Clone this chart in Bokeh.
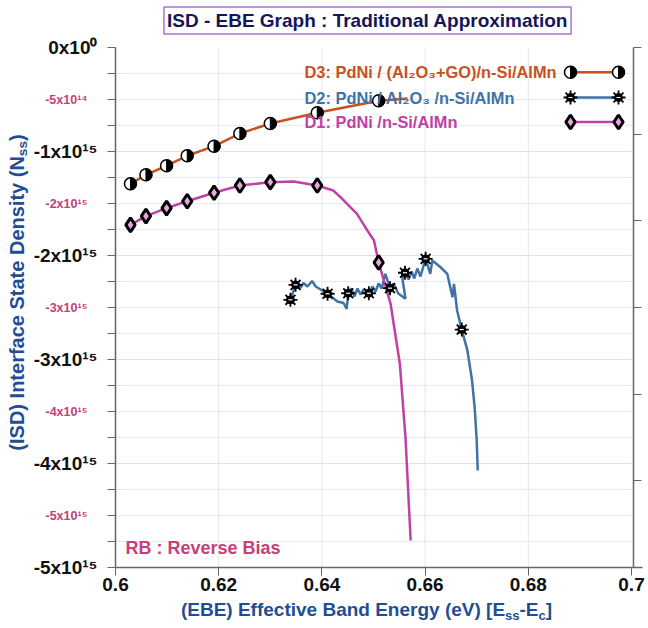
import math
from bokeh.plotting import figure
from bokeh.models import Range1d, LinearAxis, FixedTicker, Label
from bokeh.embed import file_html
from bokeh.resources import INLINE

FONT = "Liberation Sans"

# ---------------- data (y in units of 1e15) ----------------
x_ticks = [0.6, 0.62, 0.64, 0.66, 0.68, 0.7]
x_tick_labels = ["0.6", "0.62", "0.64", "0.66", "0.68", "0.7"]
y_major = [0, -1, -2, -3, -4, -5]
y_major_labels = ["0x10\u2070", "-1x10\u00b9\u2075", "-2x10\u00b9\u2075", "-3x10\u00b9\u2075",
                  "-4x10\u00b9\u2075", "-5x10\u00b9\u2075"]
y_pink = [-0.5, -1.5, -2.5, -3.5, -4.5]
y_pink_labels = ["-5x10\u00b9\u2074", "-2x10\u00b9\u2075", "-3x10\u00b9\u2075",
                 "-4x10\u00b9\u2075", "-5x10\u00b9\u2075"]
y_quarter = [-0.25 * i for i in range(21)]
right_ticks = [-5.0 * i / 6 for i in range(7)]

# D3: PdNi/(Al2O3+GO)/n-Si/AlMn
d3_x = [0.6029, 0.6059, 0.6099, 0.6139, 0.6191, 0.6241, 0.6300, 0.6391, 0.6510, 0.6566]
d3_y = [-1.311, -1.224, -1.137, -1.041, -0.949, -0.827, -0.731, -0.627, -0.512, -0.490]
d3_mx = [0.6029, 0.6059, 0.6099, 0.6139, 0.6191, 0.6241, 0.6300, 0.6391, 0.6510]
d3_my = [-1.311, -1.224, -1.137, -1.041, -0.949, -0.827, -0.731, -0.627, -0.512]

# D2: PdNi/Al2O3/n-Si/AlMn
d2_x = [0.6339, 0.6349, 0.6359, 0.6364, 0.6372, 0.6381, 0.6388, 0.6411, 0.6430, 0.6442,
        0.6448, 0.6451, 0.6457, 0.6463, 0.6469, 0.6475, 0.6481, 0.6491, 0.6498, 0.6504,
        0.6510, 0.6516, 0.6523, 0.6532, 0.6539, 0.6548, 0.6562, 0.6556, 0.6561, 0.6568,
        0.6574, 0.6579, 0.6585, 0.6591, 0.6601, 0.6610, 0.6614, 0.6630, 0.6643, 0.6653,
        0.6656, 0.6662, 0.6671, 0.6682, 0.6691, 0.6696, 0.6700, 0.6702]
d2_y = [-2.426, -2.282, -2.308, -2.264, -2.298, -2.245, -2.298, -2.368, -2.442, -2.457,
        -2.513, -2.363, -2.317, -2.394, -2.317, -2.375, -2.327, -2.363, -2.298, -2.346,
        -2.269, -2.317, -2.176, -2.314, -2.269, -2.365, -2.416, -2.221, -2.166, -2.231,
        -2.154, -2.221, -2.125, -2.202, -2.032, -2.176, -2.048, -2.113, -2.176, -2.401,
        -2.272, -2.529, -2.712, -2.913, -3.202, -3.459, -3.779, -4.067]
d2_mx = [0.6339, 0.6349, 0.6411, 0.6451, 0.6491, 0.6532, 0.6561, 0.6601, 0.6671]
d2_my = [-2.426, -2.282, -2.368, -2.363, -2.363, -2.314, -2.166, -2.032, -2.712]

# D1: PdNi/n-Si/AlMn
d1_x = [0.6029, 0.6059, 0.6099, 0.6139, 0.6191, 0.6241, 0.6300, 0.6345, 0.6391, 0.6422,
        0.6436, 0.6468, 0.6484, 0.6501, 0.6510, 0.6533, 0.6551, 0.6562, 0.6572]
d1_y = [-1.705, -1.622, -1.545, -1.478, -1.397, -1.327, -1.295, -1.288, -1.327, -1.375,
        -1.439, -1.599, -1.728, -1.856, -2.067, -2.462, -3.038, -3.750, -4.740]
d1_mx = [0.6029, 0.6059, 0.6099, 0.6139, 0.6191, 0.6241, 0.6300, 0.6391, 0.6510]
d1_my = [-1.705, -1.622, -1.545, -1.478, -1.397, -1.327, -1.295, -1.327, -2.067]

legend_texts = ["D3: PdNi / (Al\u2082O\u2083+GO)/n-Si/AlMn",
                "D2: PdNi / Al\u2082O\u2083 /n-Si/AlMn",
                "D1: PdNi /n-Si/AlMn"]

title_text = "ISD - EBE Graph : Traditional Approximation"
note_text = "RB : Reverse Bias"
xlabel_pieces = [("(EBE) Effective Band Energy (eV) [E", False), ("ss", True), ("-E", False),
                 ("c", True), ("]", False)]
ylabel_pieces = [("(ISD) Interface State Density (N", False), ("ss", True), (")", False)]

# ---------------- styling ----------------
C3 = "#c9501f"
C2 = "#3f73a6"
C1 = "#c23fa6"
AXC = "#1f4e96"
PINK = "#c63f78"
AXL = "#666666"

# data frame placement in the 648x628 canvas (pixels)
L, R, T, B = 115, 17, 47, 61
W_, H_ = 648, 628
FW, FH = W_ - L - R, H_ - T - B
XMIN, XMAX, YMIN, YMAX = 0.6, 0.7, -5.0, 0.0
KX = (XMAX - XMIN) / FW
KY = (YMAX - YMIN) / FH

p = figure(width=W_, height=H_, output_backend="svg", toolbar_location=None,
           x_range=Range1d(XMIN - L * KX, XMAX + R * KX),
           y_range=Range1d(YMIN - B * KY, YMAX + T * KY),
           x_axis_location=None, y_axis_location=None, min_border=0)
p.outline_line_color = None
p.background_fill_color = "white"
p.border_fill_color = "white"
p.xgrid.visible = False
p.ygrid.visible = False


def sx(px):
    return XMIN + (px - L) * KX


def sy(py):
    return YMAX - (py - T) * KY


# ---------------- grid lines ----------------
gx = x_ticks[1:-1]
p.segment(x0=gx, y0=[YMIN] * len(gx), x1=gx, y1=[YMAX] * len(gx),
          line_color="#e6e6e6", line_width=1)
gy = [v for v in y_quarter if v not in y_major]
p.segment(x0=[XMIN] * len(gy), y0=gy, x1=[XMAX] * len(gy), y1=gy,
          line_color="#e3eaf0", line_width=1)
gy2 = y_major[1:-1]
p.segment(x0=[XMIN] * len(gy2), y0=gy2, x1=[XMAX] * len(gy2), y1=gy2,
          line_color="#f5dcc8", line_width=1)

# ---------------- axes (pinned to the data frame) ----------------
xa = LinearAxis(fixed_location=YMIN, bounds=(XMIN, sx(642)),
                ticker=FixedTicker(ticks=x_ticks),
                major_label_overrides={t: s for t, s in zip(x_ticks, x_tick_labels)},
                major_label_text_font=FONT, major_label_text_font_style="bold",
                major_label_text_font_size="19px", major_label_text_color="#111111",
                major_tick_out=8, major_tick_in=0, minor_tick_line_color=None,
                axis_line_color=AXL, major_tick_line_color=AXL, axis_line_width=1.5,
                major_label_standoff=2)
p.add_layout(xa, "below")

ov = {q: "" for q in y_quarter}
for t, s in zip(y_major, y_major_labels):
    ov[t] = s
ya = LinearAxis(fixed_location=XMIN, bounds=(YMIN, YMAX),
                ticker=FixedTicker(ticks=y_quarter), major_label_overrides=ov,
                major_label_text_font=FONT, major_label_text_font_style="bold",
                major_label_text_font_size="19px", major_label_text_color="#111111",
                major_tick_out=8, major_tick_in=0, minor_tick_line_color=None,
                axis_line_color=AXL, major_tick_line_color=AXL, axis_line_width=1.5,
                major_label_standoff=10)
p.add_layout(ya, "left")

ra = LinearAxis(fixed_location=sx(633), bounds=(YMIN, YMAX),
                ticker=FixedTicker(ticks=right_ticks),
                major_label_overrides={t: "" for t in right_ticks},
                major_tick_out=8, major_tick_in=0, minor_tick_line_color=None,
                axis_line_color=AXL, major_tick_line_color=AXL, axis_line_width=1.5)
p.add_layout(ra, "right")

# ---------------- series ----------------
p.line(d2_x, d2_y, line_color=C2, line_width=2.5)
p.line(d1_x, d1_y, line_color=C1, line_width=2.5)
p.line(d3_x, d3_y, line_color=C3, line_width=2.5)


def star_markers(xs, ys):
    p.scatter(xs, ys, marker="circle", size=8, fill_color="black", line_color="black")
    p.scatter(xs, ys, marker="asterisk", size=14, line_color="black", line_width=1.8)
    p.scatter(xs, ys, marker="dash", size=4, line_color="white", line_width=1.2)


def diamond_markers(xs, ys):
    p.scatter(xs, ys, marker="diamond", size=14, fill_color="#e6a8dc", line_color="black",
              line_width=3)


def half_markers(xs, ys):
    p.scatter(xs, ys, marker="circle", size=12, fill_color="white", line_color="black",
              line_width=1.5)
    p.wedge(xs, ys, radius=6, radius_units="screen", start_angle=-math.pi / 2,
            end_angle=math.pi / 2, fill_color="black", line_color="black")


star_markers(d2_mx, d2_my)
diamond_markers(d1_mx, d1_my)
half_markers(d3_mx, d3_my)

# ---------------- legend (custom) ----------------
leg_cols = [C3, C2, C1]
leg_py = [71.7, 97.0, 121.5]
for txt, col, py in zip(legend_texts, leg_cols, leg_py):
    p.add_layout(Label(x=sx(304), y=sy(py), text=txt, text_align="left",
                       text_baseline="middle", text_font=FONT, text_font_style="bold",
                       text_font_size="16.4px", text_color=col))
lx = [sx(570), sx(618)]
p.line(lx, [sy(leg_py[0])] * 2, line_color=C3, line_width=2.5)
p.line(lx, [sy(leg_py[1])] * 2, line_color=C2, line_width=2.5)
p.line(lx, [sy(leg_py[2])] * 2, line_color=C1, line_width=2.5)
half_markers(lx, [sy(leg_py[0])] * 2)
star_markers(lx, [sy(leg_py[1])] * 2)
diamond_markers(lx, [sy(leg_py[2])] * 2)


def text(x, y, s, size, color, align="left", angle=0.0, **kw):
    p.add_layout(Label(x=x, y=y, text=s, text_align=align, text_baseline="middle",
                       angle=angle, text_font=FONT, text_font_style="bold",
                       text_font_size="%.1fpx" % size, text_color=color, **kw))


# pink intermediate labels
for v, s in zip(y_pink, y_pink_labels):
    text(sx(L - 28), v, s, 12.5, PINK, align="right")

# title
text(sx(367), sy(20), title_text, 19, "#15155a", align="center",
     border_line_color="#a874d6", border_line_width=1.5,
     background_fill_color="white", padding=3)

# note
text(sx(125), sy(547), note_text, 18, PINK)

# axis titles with subscripts
AW = {' ': 278, '(': 333, ')': 333, '+': 584, '-': 333, '.': 278, '/': 278, ':': 333,
      '[': 333, ']': 333, 'A': 722, 'B': 722, 'C': 722, 'D': 722, 'E': 667, 'F': 611,
      'G': 778, 'I': 278, 'N': 722, 'S': 667, 'V': 667, 'a': 556, 'c': 556, 'd': 611,
      'e': 556, 'f': 333, 'g': 611, 'i': 278, 'n': 611, 'r': 389, 's': 556, 't': 333,
      'v': 556, 'y': 556}


def tw(s, size):
    return sum(AW.get(ch, 556) for ch in s) * size / 1000.0


def composite(pieces, size, sub_size, centre, other, rotated, drop=6):
    widths = [tw(t, sub_size if sub else size) for t, sub in pieces]
    total = sum(widths)
    if not rotated:
        pos = centre - total / 2
        for (t, sub), w in zip(pieces, widths):
            text(sx(pos), sy(other + (drop if sub else 0)), t,
                 sub_size if sub else size, AXC)
            pos += w
    else:
        pos = centre + total / 2
        for (t, sub), w in zip(pieces, widths):
            text(sx(other + (drop if sub else 0)), sy(pos), t,
                 sub_size if sub else size, AXC, angle=math.pi / 2)
            pos -= w


composite(xlabel_pieces, 19, 13, 366, 609, False)
composite(ylabel_pieces, 20, 13.6, 292, 16, True)

open("out.html", "w").write(file_html(p, INLINE))
